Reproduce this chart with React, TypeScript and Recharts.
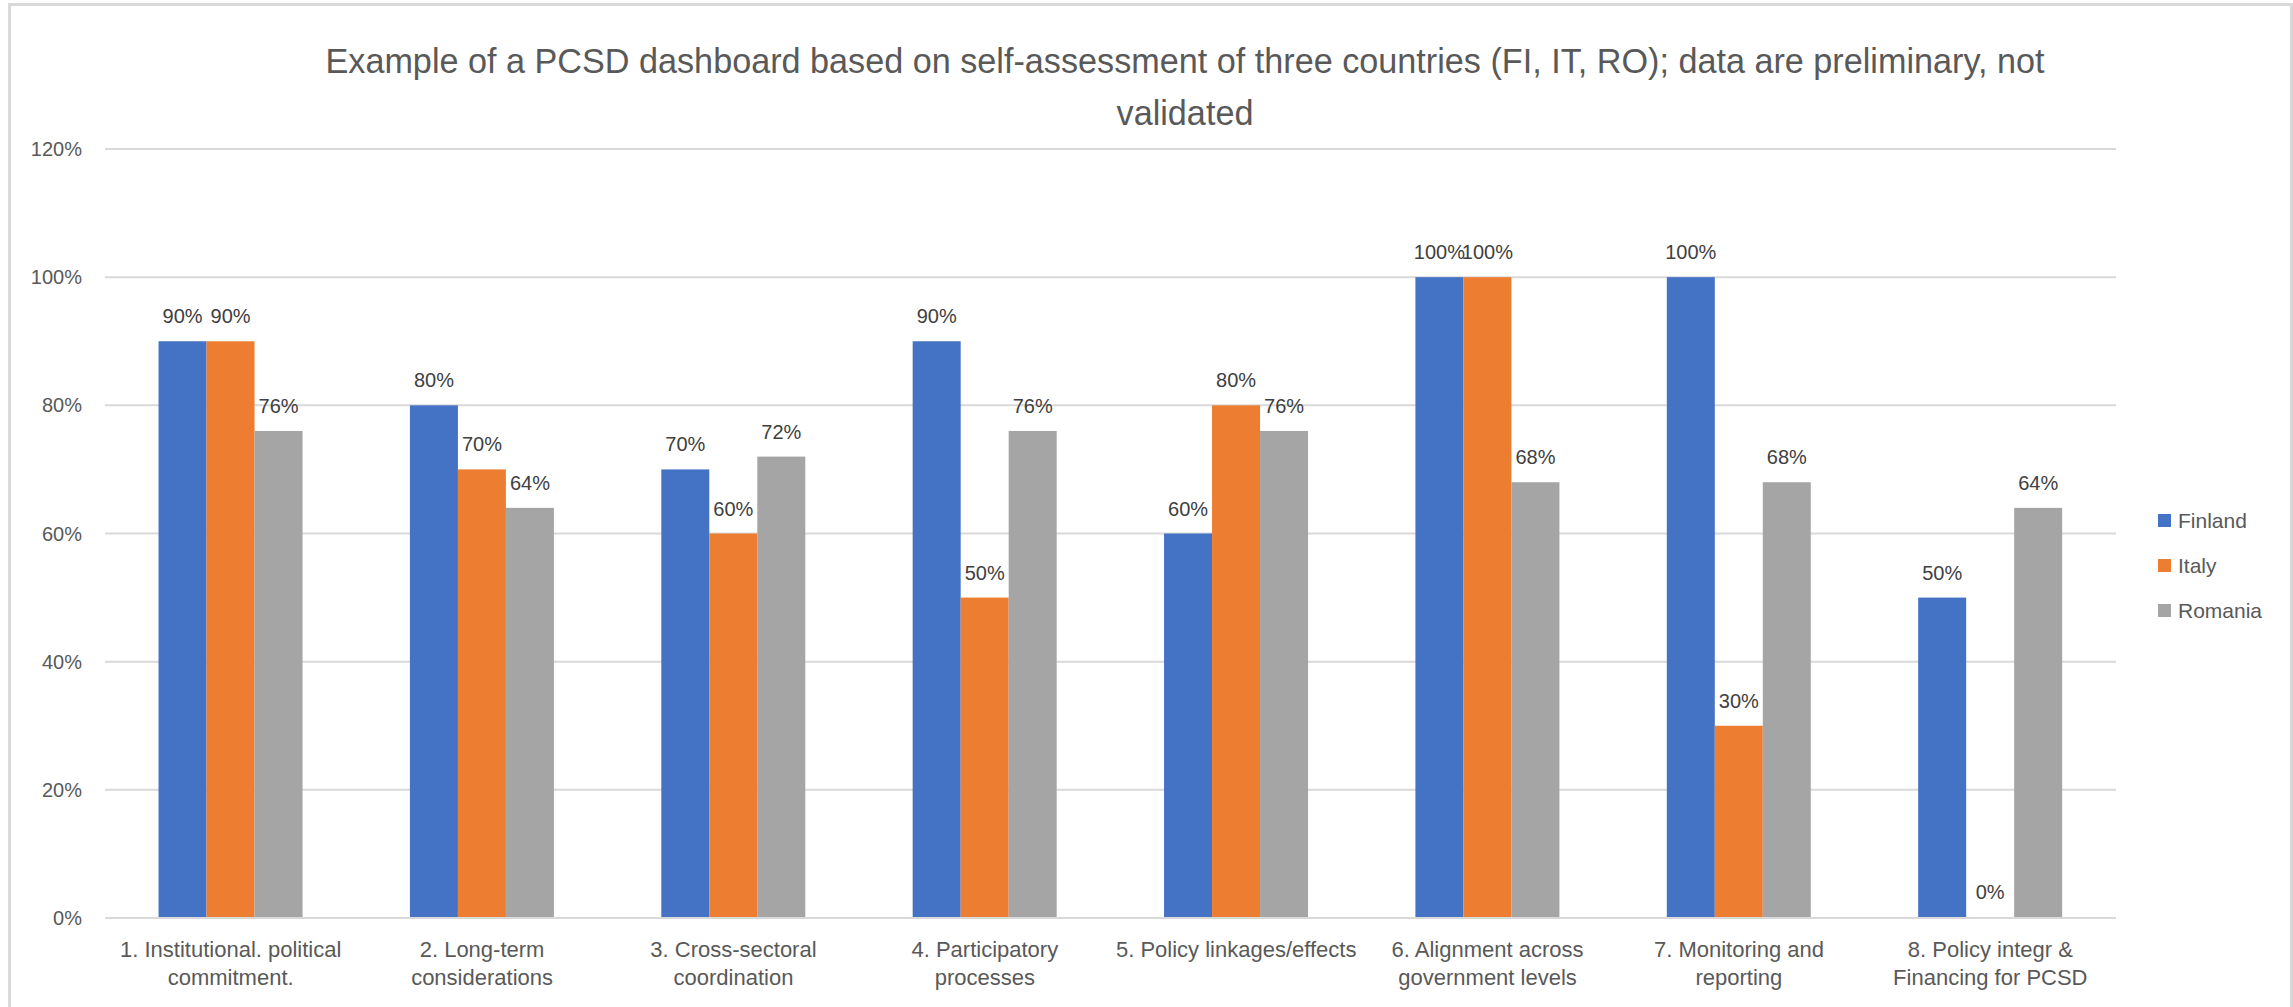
import { Bar, BarChart, CartesianGrid, LabelList, Legend, XAxis, YAxis } from 'recharts'

const titleLines = [
    'Example of a PCSD dashboard based on self-assessment of three countries (FI, IT, RO); data are preliminary, not',
    'validated',
]

const categories = [
    '1. Institutional. political\ncommitment.',
    '2. Long-term\nconsiderations',
    '3. Cross-sectoral\ncoordination',
    '4. Participatory\nprocesses',
    '5. Policy linkages/effects',
    '6. Alignment across\ngovernment levels',
    '7. Monitoring and\nreporting',
    '8. Policy integr &\nFinancing for PCSD',
]

const finland = [0.9, 0.8, 0.7, 0.9, 0.6, 1.0, 1.0, 0.5]
const italy = [0.9, 0.7, 0.6, 0.5, 0.8, 1.0, 0.3, 0]
const romania = [0.76, 0.64, 0.72, 0.76, 0.76, 0.68, 0.68, 0.64]

const yTicks = [0, 0.2, 0.4, 0.6, 0.8, 1.0, 1.2]

const FONT = '"Liberation Sans", Arial, sans-serif'
const TEXT = '#595959'
const GRID = '#D9D9D9'

const data = categories.map((name, i) => ({
    name,
    Finland: finland[i],
    Italy: italy[i],
    Romania: romania[i],
}))

const pct = (v: number) => `${Math.round(v * 100)}%`

function CategoryTick({ x, y, payload }: any) {
    const lines = String(payload.value).split('\n')
    return (
        <text x={x} y={y} textAnchor="middle" fill={TEXT} fontSize={22} fontFamily={FONT}>
            {lines.map((line, i) => (
                <tspan key={i} x={x} dy={i === 0 ? 31 : 28}>
                    {line}
                </tspan>
            ))}
        </text>
    )
}

// zero values still get a (1px) bar so their label is drawn, but nothing is painted
function BarShape(props: any) {
    const { x, y, width, height, fill, value } = props
    const v = Array.isArray(value) ? value[1] - value[0] : value
    if (!v) return <g />
    return <rect x={x} y={y} width={width} height={height} fill={fill} />
}

function LegendContent({ payload }: any) {
    return (
        <div style={{ fontFamily: FONT, fontSize: 21, color: TEXT }}>
            {(payload ?? []).map((p: any) => (
                <div
                    key={p.value}
                    style={{ display: 'flex', alignItems: 'center', height: 45 }}
                >
                    <span
                        style={{
                            display: 'inline-block',
                            width: 13,
                            height: 13,
                            background: p.color,
                            marginRight: 7,
                        }}
                    />
                    {p.value}
                </div>
            ))}
        </div>
    )
}

const labelProps = {
    position: 'top' as const,
    offset: 18,
    formatter: pct,
    fill: '#404040',
    fontSize: 20,
    fontFamily: FONT,
}

export default function App() {
    return (
        <div
            style={{
                position: 'fixed',
                left: 0,
                top: 0,
                width: 2293,
                height: 1007,
                background: '#fff',
                overflow: 'hidden',
            }}
        >
            <div
                style={{
                    position: 'absolute',
                    left: 8,
                    top: 3,
                    width: 2285,
                    height: 1010,
                    boxSizing: 'border-box',
                    borderTop: `3px solid ${GRID}`,
                    borderLeft: `3px solid ${GRID}`,
                    borderRight: `3px solid ${GRID}`,
                }}
            />
            <div
                style={{
                    position: 'absolute',
                    left: 185,
                    top: 35,
                    width: 2000,
                    textAlign: 'center',
                    fontFamily: FONT,
                    fontSize: 34.2,
                    lineHeight: '52px',
                    color: TEXT,
                    whiteSpace: 'nowrap',
                }}
            >
                {titleLines.map((l) => (
                    <div key={l}>{l}</div>
                ))}
            </div>
            <div style={{ position: 'absolute', left: 0, top: 0 }}>
                <BarChart
                    width={2293}
                    height={1007}
                    data={data}
                    margin={{ top: 149, right: 177, bottom: 9, left: 30 }}
                    barCategoryGap="21.3%"
                    barGap={0}
                >
                    <CartesianGrid vertical={false} stroke={GRID} strokeWidth={2} />
                    <XAxis
                        dataKey="name"
                        height={80}
                        interval={0}
                        tickLine={false}
                        axisLine={{ stroke: GRID, strokeWidth: 2 }}
                        tick={<CategoryTick />}
                    />
                    <YAxis
                        width={75}
                        domain={[0, 1.2]}
                        ticks={yTicks}
                        tickFormatter={pct}
                        axisLine={false}
                        tickLine={false}
                        tickMargin={17}
                        tick={{ fill: TEXT, fontSize: 20, fontFamily: FONT }}
                    />
                    <Legend
                        layout="vertical"
                        align="center"
                        verticalAlign="middle"
                        wrapperStyle={{ left: 2158, top: 498, width: 130 }}
                        content={<LegendContent />}
                    />
                    <Bar
                        dataKey="Finland"
                        fill="#4472C4"
                        minPointSize={1}
                        shape={<BarShape />}
                        isAnimationActive={false}
                    >
                        <LabelList dataKey="Finland" {...labelProps} />
                    </Bar>
                    <Bar
                        dataKey="Italy"
                        fill="#ED7D31"
                        minPointSize={1}
                        shape={<BarShape />}
                        isAnimationActive={false}
                    >
                        <LabelList dataKey="Italy" {...labelProps} />
                    </Bar>
                    <Bar
                        dataKey="Romania"
                        fill="#A5A5A5"
                        minPointSize={1}
                        shape={<BarShape />}
                        isAnimationActive={false}
                    >
                        <LabelList dataKey="Romania" {...labelProps} />
                    </Bar>
                </BarChart>
            </div>
        </div>
    )
}
